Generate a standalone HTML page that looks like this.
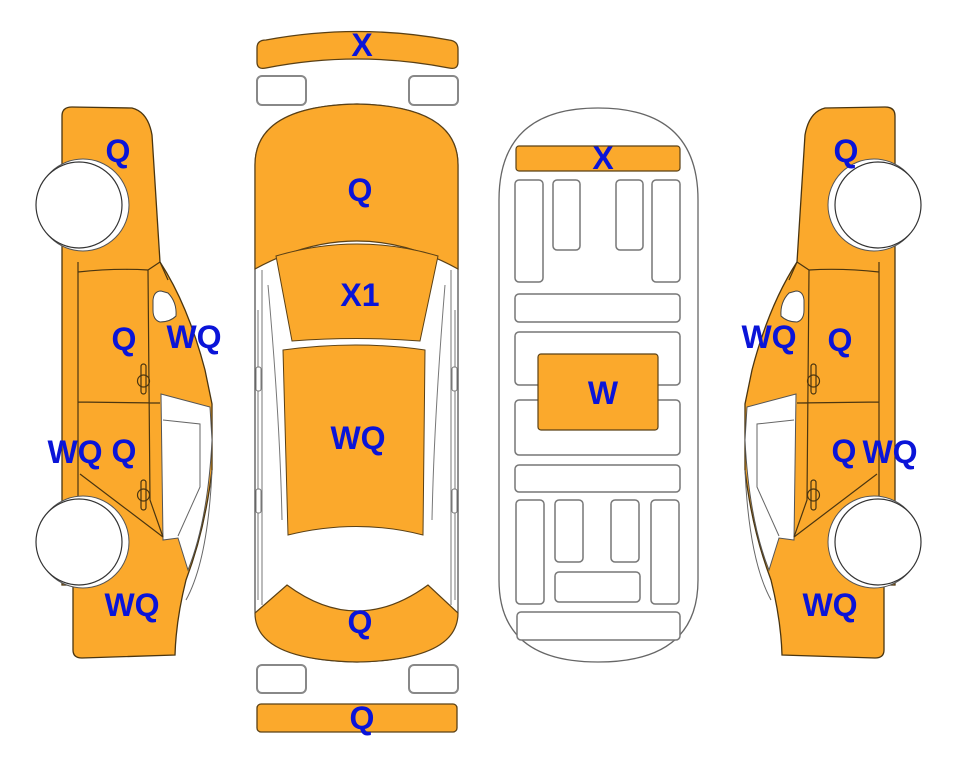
<!DOCTYPE html>
<html><head><meta charset="utf-8"><style>
html,body{margin:0;padding:0;background:#fff}
svg{display:block}
text{font-family:"Liberation Sans",Arial,sans-serif;font-weight:bold;font-size:32px;fill:#0a14d8;text-anchor:middle;dominant-baseline:central}
</style></head><body>
<svg width="963" height="768" viewBox="0 0 963 768" xmlns="http://www.w3.org/2000/svg">
<defs>
<g id="side">
  <path d="M62,116 Q62,107 72,107 L132,108 Q148,112 152,135 L160,262 Q188,305 205,370 L212,404 L212,470 Q205,530 186,580 Q176,620 175,655 L82,658 Q73,658 73,650 L73,585 L62,585 Z" fill="#fba92c" stroke="#4a3510" stroke-width="1.3"/>
  <path d="M161,394 L210,407 L212,440 Q208,520 188,570 L178,538 L163,540 Z" fill="#fff" stroke="#555" stroke-width="1"/>
  <path d="M163,420 L200,424 L200,487 L178,536" fill="none" stroke="#666" stroke-width="1"/>
  <path d="M212,470 Q208,560 186,600" fill="none" stroke="#666" stroke-width="1"/>
  <path d="M153,300 Q154,291 161,291 L168,293 Q177,302 176,316 Q170,322 160,322 Q153,320 153,310 Z" fill="#fff" stroke="#444" stroke-width="1"/>
  <path d="M78,262 L78,520 M78,272 Q115,268 148,270 L160,262 M78,402 L160,403 M80,474 L163,537 M148,270 L150,500 L163,537 M160,262 L168,280" fill="none" stroke="#4a3510" stroke-width="1.2"/>
  <rect x="141" y="364" width="5" height="30" rx="2.5" fill="none" stroke="#4a3510" stroke-width="1.2"/>
  <circle cx="143.5" cy="381" r="6" fill="none" stroke="#4a3510" stroke-width="1.2"/>
  <rect x="141" y="480" width="5" height="30" rx="2.5" fill="none" stroke="#4a3510" stroke-width="1.2"/>
  <circle cx="143.5" cy="495" r="6" fill="none" stroke="#4a3510" stroke-width="1.2"/>
  <circle cx="83" cy="205" r="46" fill="#fff" stroke="#555" stroke-width="1"/>
  <circle cx="79" cy="205" r="43" fill="#fff" stroke="#333" stroke-width="1.2"/>
  <circle cx="83" cy="542" r="46" fill="#fff" stroke="#555" stroke-width="1"/>
  <circle cx="79" cy="542" r="43" fill="#fff" stroke="#333" stroke-width="1.2"/>
</g>
</defs>
<use href="#side"/>
<use href="#side" transform="translate(957,0) scale(-1,1)"/>

<!-- center top view -->
<path d="M257,48 Q257,40 266,40 Q357,23 449,40 Q458,41 458,49 L458,62 Q458,70 449,68 Q357,50 266,68 Q257,70 257,62 Z" fill="#fba92c" stroke="#5a4015" stroke-width="1.3"/>
<rect x="257" y="76" width="49" height="29" rx="5" fill="#fff" stroke="#888" stroke-width="2"/>
<rect x="409" y="76" width="49" height="29" rx="5" fill="#fff" stroke="#888" stroke-width="2"/>
<path d="M255,165 Q255,106 357,104 Q458,106 458,165 L458,610 Q458,660 357,662 Q255,660 255,610 Z" fill="#fff" stroke="#555" stroke-width="1.3"/>
<path d="M262,270 L262,605 M451,270 L451,605 M268,285 Q280,420 282,520 M445,285 Q434,420 432,520 M258,310 L258,600 M455,310 L455,600" fill="none" stroke="#777" stroke-width="1"/>
<rect x="256" y="367" width="5" height="24" rx="2" fill="#fff" stroke="#777"/>
<rect x="256" y="489" width="5" height="24" rx="2" fill="#fff" stroke="#777"/>
<rect x="452" y="367" width="5" height="24" rx="2" fill="#fff" stroke="#777"/>
<rect x="452" y="489" width="5" height="24" rx="2" fill="#fff" stroke="#777"/>
<path d="M255,165 Q255,106 357,104 Q458,106 458,165 L458,269 Q357,213 255,269 Z" fill="#fba92c" stroke="#5a4015" stroke-width="1.2"/>
<path d="M276,256 Q357,232 438,256 L420,341 Q357,336 292,341 Z" fill="#fba92c" stroke="#5a4015" stroke-width="1"/>
<path d="M283,350 Q357,340 425,350 L423,535 Q357,518 288,535 Z" fill="#fba92c" stroke="#5a4015" stroke-width="1"/>
<path d="M255,613 L287,585 Q357,637 428,585 L458,613 Q458,660 357,662 Q255,660 255,613 Z" fill="#fba92c" stroke="#5a4015" stroke-width="1.2"/>
<rect x="257" y="665" width="49" height="28" rx="5" fill="#fff" stroke="#888" stroke-width="2"/>
<rect x="409" y="665" width="49" height="28" rx="5" fill="#fff" stroke="#888" stroke-width="2"/>
<rect x="257" y="704" width="200" height="28" rx="4" fill="#fba92c" stroke="#5a4015" stroke-width="1.3"/>

<!-- underbody -->
<path d="M499,200 Q499,108 598,108 Q698,108 698,200 L698,580 Q698,662 598,662 Q499,662 499,580 Z" fill="#fff" stroke="#666" stroke-width="1.3"/>
<g fill="#fff" stroke="#777" stroke-width="1.5">
<rect x="515" y="180" width="28" height="102" rx="4"/>
<rect x="553" y="180" width="27" height="70" rx="4"/>
<rect x="616" y="180" width="27" height="70" rx="4"/>
<rect x="652" y="180" width="28" height="102" rx="4"/>
<rect x="515" y="294" width="165" height="28" rx="4"/>
<rect x="515" y="332" width="165" height="53" rx="4"/>
<rect x="515" y="400" width="165" height="55" rx="4"/>
<rect x="515" y="465" width="165" height="27" rx="4"/>
<rect x="516" y="500" width="28" height="104" rx="4"/>
<rect x="555" y="500" width="28" height="62" rx="4"/>
<rect x="611" y="500" width="28" height="62" rx="4"/>
<rect x="651" y="500" width="28" height="104" rx="4"/>
<rect x="555" y="572" width="85" height="30" rx="4"/>
<rect x="517" y="612" width="163" height="28" rx="4"/>
</g>
<rect x="516" y="146" width="164" height="25" rx="3" fill="#fba92c" stroke="#5a4015" stroke-width="1.2"/>
<rect x="538" y="354" width="120" height="76" rx="3" fill="#fba92c" stroke="#5a4015" stroke-width="1.2"/>

<!-- labels -->
<text x="118" y="151">Q</text>
<text x="124" y="339">Q</text>
<text x="194" y="337">WQ</text>
<text x="75" y="452">WQ</text>
<text x="124" y="451">Q</text>
<text x="132" y="605">WQ</text>
<text x="362" y="45">X</text>
<text x="360" y="190">Q</text>
<text x="360" y="295">X1</text>
<text x="358" y="438">WQ</text>
<text x="360" y="622">Q</text>
<text x="362" y="718">Q</text>
<text x="603" y="158">X</text>
<text x="603" y="393">W</text>
<text x="846" y="151">Q</text>
<text x="769" y="337">WQ</text>
<text x="840" y="340">Q</text>
<text x="844" y="451">Q</text>
<text x="890" y="452">WQ</text>
<text x="830" y="605">WQ</text>
</svg>
</body></html>
